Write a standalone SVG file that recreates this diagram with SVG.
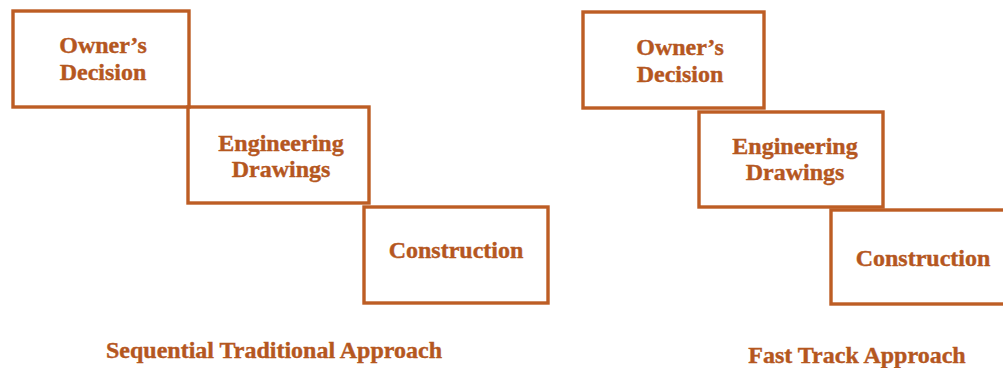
<svg xmlns="http://www.w3.org/2000/svg" width="1003" height="368" viewBox="0 0 1003 368">
<style>
.box{fill:none;stroke:#bd5d24;stroke-width:3.4;stroke-linejoin:miter}
.lbl{font-family:"Liberation Serif","Times New Roman",serif;font-weight:bold;font-size:24px;fill:#b5571f;stroke:#b5571f;stroke-width:0.4;text-anchor:middle}
</style>
<rect width="1003" height="368" fill="#ffffff"/>
<g id="left-owner">
<rect class="box" x="13" y="11" width="176" height="96"/>
<text class="lbl" x="103" y="53">Owner’s</text>
<text class="lbl" x="103" y="80">Decision</text>
</g>
<g id="left-engineering">
<rect class="box" x="188" y="107" width="181" height="96"/>
<text class="lbl" x="281" y="151">Engineering</text>
<text class="lbl" x="281" y="177">Drawings</text>
</g>
<g id="left-construction">
<rect class="box" x="364" y="207" width="184" height="96"/>
<text class="lbl" x="456" y="258">Construction</text>
</g>
<g id="left-title">
<text class="lbl" x="274" y="358">Sequential Traditional Approach</text>
</g>
<g id="right-owner">
<rect class="box" x="583" y="12" width="181" height="96"/>
<text class="lbl" x="680" y="55">Owner’s</text>
<text class="lbl" x="680" y="82">Decision</text>
</g>
<g id="right-engineering">
<rect class="box" x="699" y="112" width="184" height="95"/>
<text class="lbl" x="795" y="154">Engineering</text>
<text class="lbl" x="795" y="180">Drawings</text>
</g>
<g id="right-construction">
<rect class="box" x="831" y="210" width="185" height="94"/>
<text class="lbl" x="923" y="266">Construction</text>
</g>
<g id="right-title">
<text class="lbl" x="857" y="363">Fast Track Approach</text>
</g>
</svg>
